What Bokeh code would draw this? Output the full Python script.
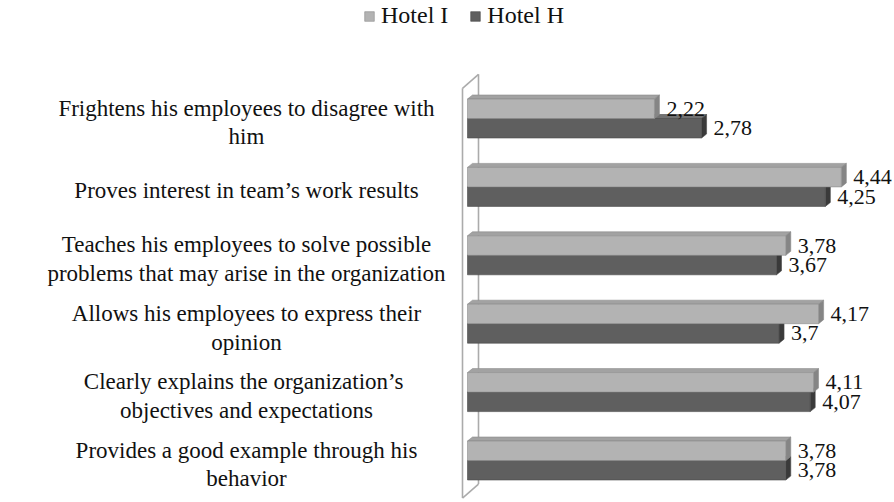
from bokeh.plotting import figure
from bokeh.models import Range1d, ColumnDataSource, Legend, LegendItem
from bokeh.core.properties import value
from bokeh.embed import file_html
from bokeh.resources import INLINE

# ---- data ----
categories = [
    "Frightens his employees to disagree with\nhim",
    "Proves interest in team\u2019s work results",
    "Teaches his employees to solve possible\nproblems that may arise in the organization",
    "Allows his employees to express their\nopinion",
    "Clearly  explains the organization\u2019s\nobjectives and expectations",
    "Provides a good example through his\nbehavior",
]
hotel_i = [2.22, 4.44, 3.78, 4.17, 4.11, 3.78]
hotel_h = [2.78, 4.25, 3.67, 3.70, 4.07, 3.78]
series_names = ["Hotel I", "Hotel H"]

# ---- layout / style constants ----
W, H = 892, 500
X0_PX, KX = 467, 84.2          # screen x of value 0, px per unit
Y0_PX, KY = 118, 68.4          # screen y of first category, px per unit
BAR_H = 19.5 / KY
DX, DY = 5 / KX, 4 / KY        # 3D depth
FONT = "'Liberation Serif', 'Times New Roman', serif"

p = figure(width=W, height=H,
           x_range=Range1d(-X0_PX / KX, (W - X0_PX) / KX),
           y_range=Range1d(-(H - Y0_PX) / KY, Y0_PX / KY),
           output_backend="svg", toolbar_location=None, min_border=0,
           x_axis_location=None, y_axis_location=None)
p.grid.visible = False
p.outline_line_color = None

n = len(categories)
ys = [-i for i in range(n)]

# ---- 3D wall (frame decoration) ----
wl_x, wr_x = -5 / KX, 11 / KX
w_top, w_bot = 0.5 - 4 / KY, -(n - 1) - 0.5 - 0.05
wdy = 14 / KY
wall_col = "#ababab"
p.segment(x0=[wr_x, wl_x, wl_x, wl_x], y0=[w_top + wdy, w_top, w_top, w_bot],
          x1=[wr_x, wl_x, wr_x, wr_x], y1=[w_bot + wdy, w_bot, w_top + wdy, w_bot + wdy],
          line_color=wall_col, line_width=1.6)

# ---- bars ----
def draw_series(vals, tops, front, top_c, side_c, edge):
    bots = [t - BAR_H for t in tops]
    src = ColumnDataSource(dict(left=[0] * n, right=vals, top=tops, bottom=bots))
    top_xs = [[0, v, v + DX, DX] for v in vals]
    top_ys = [[t, t, t + DY, t + DY] for t in tops]
    side_xs = [[v, v + DX, v + DX, v] for v in vals]
    side_ys = [[b, b + DY, t + DY, t] for b, t in zip(bots, tops)]
    p.patches(top_xs, top_ys, fill_color=top_c, line_color=edge, line_width=0.6)
    p.patches(side_xs, side_ys, fill_color=side_c, line_color=edge, line_width=0.6)
    return p.quad(left="left", right="right", top="top", bottom="bottom", source=src,
                  fill_color=front, line_color=edge, line_width=0.6)

r_h = draw_series(hotel_h, list(ys), "#5f5f5f", "#727272", "#3a3a3a", "#4a4a4a")
r_i = draw_series(hotel_i, [y + BAR_H for y in ys], "#b3b3b3", "#a2a2a2", "#858585", "#8c8c8c")

# ---- value labels ----
fmt = lambda v: f"{v:g}".replace(".", ",")
p.text(x=hotel_i, y=[y + BAR_H / 2 for y in ys], text=[fmt(v) for v in hotel_i],
       x_offset=12, text_align="left", text_baseline="middle",
       text_font=value(FONT), text_font_size="22px", text_color="#111111")
p.text(x=hotel_h, y=[y - BAR_H / 2 for y in ys], text=[fmt(v) for v in hotel_h],
       x_offset=12, text_align="left", text_baseline="middle",
       text_font=value(FONT), text_font_size="22px", text_color="#111111")

# ---- category labels ----
lab_x = (246 - X0_PX) / KX
p.text(x=[lab_x] * n, y=ys, text=categories, y_offset=4,
       text_align="center", text_baseline="middle", text_line_height=1.15,
       text_font=value(FONT), text_font_size="23px", text_color="#111111")

# ---- legend ----
legend = Legend(items=[LegendItem(label=series_names[0], renderers=[r_i]),
                       LegendItem(label=series_names[1], renderers=[r_h])],
                orientation="horizontal", location=(363, H - 29),
                padding=0, margin=0, spacing=21, label_standoff=6,
                glyph_width=12, glyph_height=12,
                label_text_font=FONT, label_text_font_size="24px",
                label_text_color="#111111",
                border_line_color=None, background_fill_alpha=0)
p.add_layout(legend)

open("out.html", "w").write(file_html(p, INLINE))
